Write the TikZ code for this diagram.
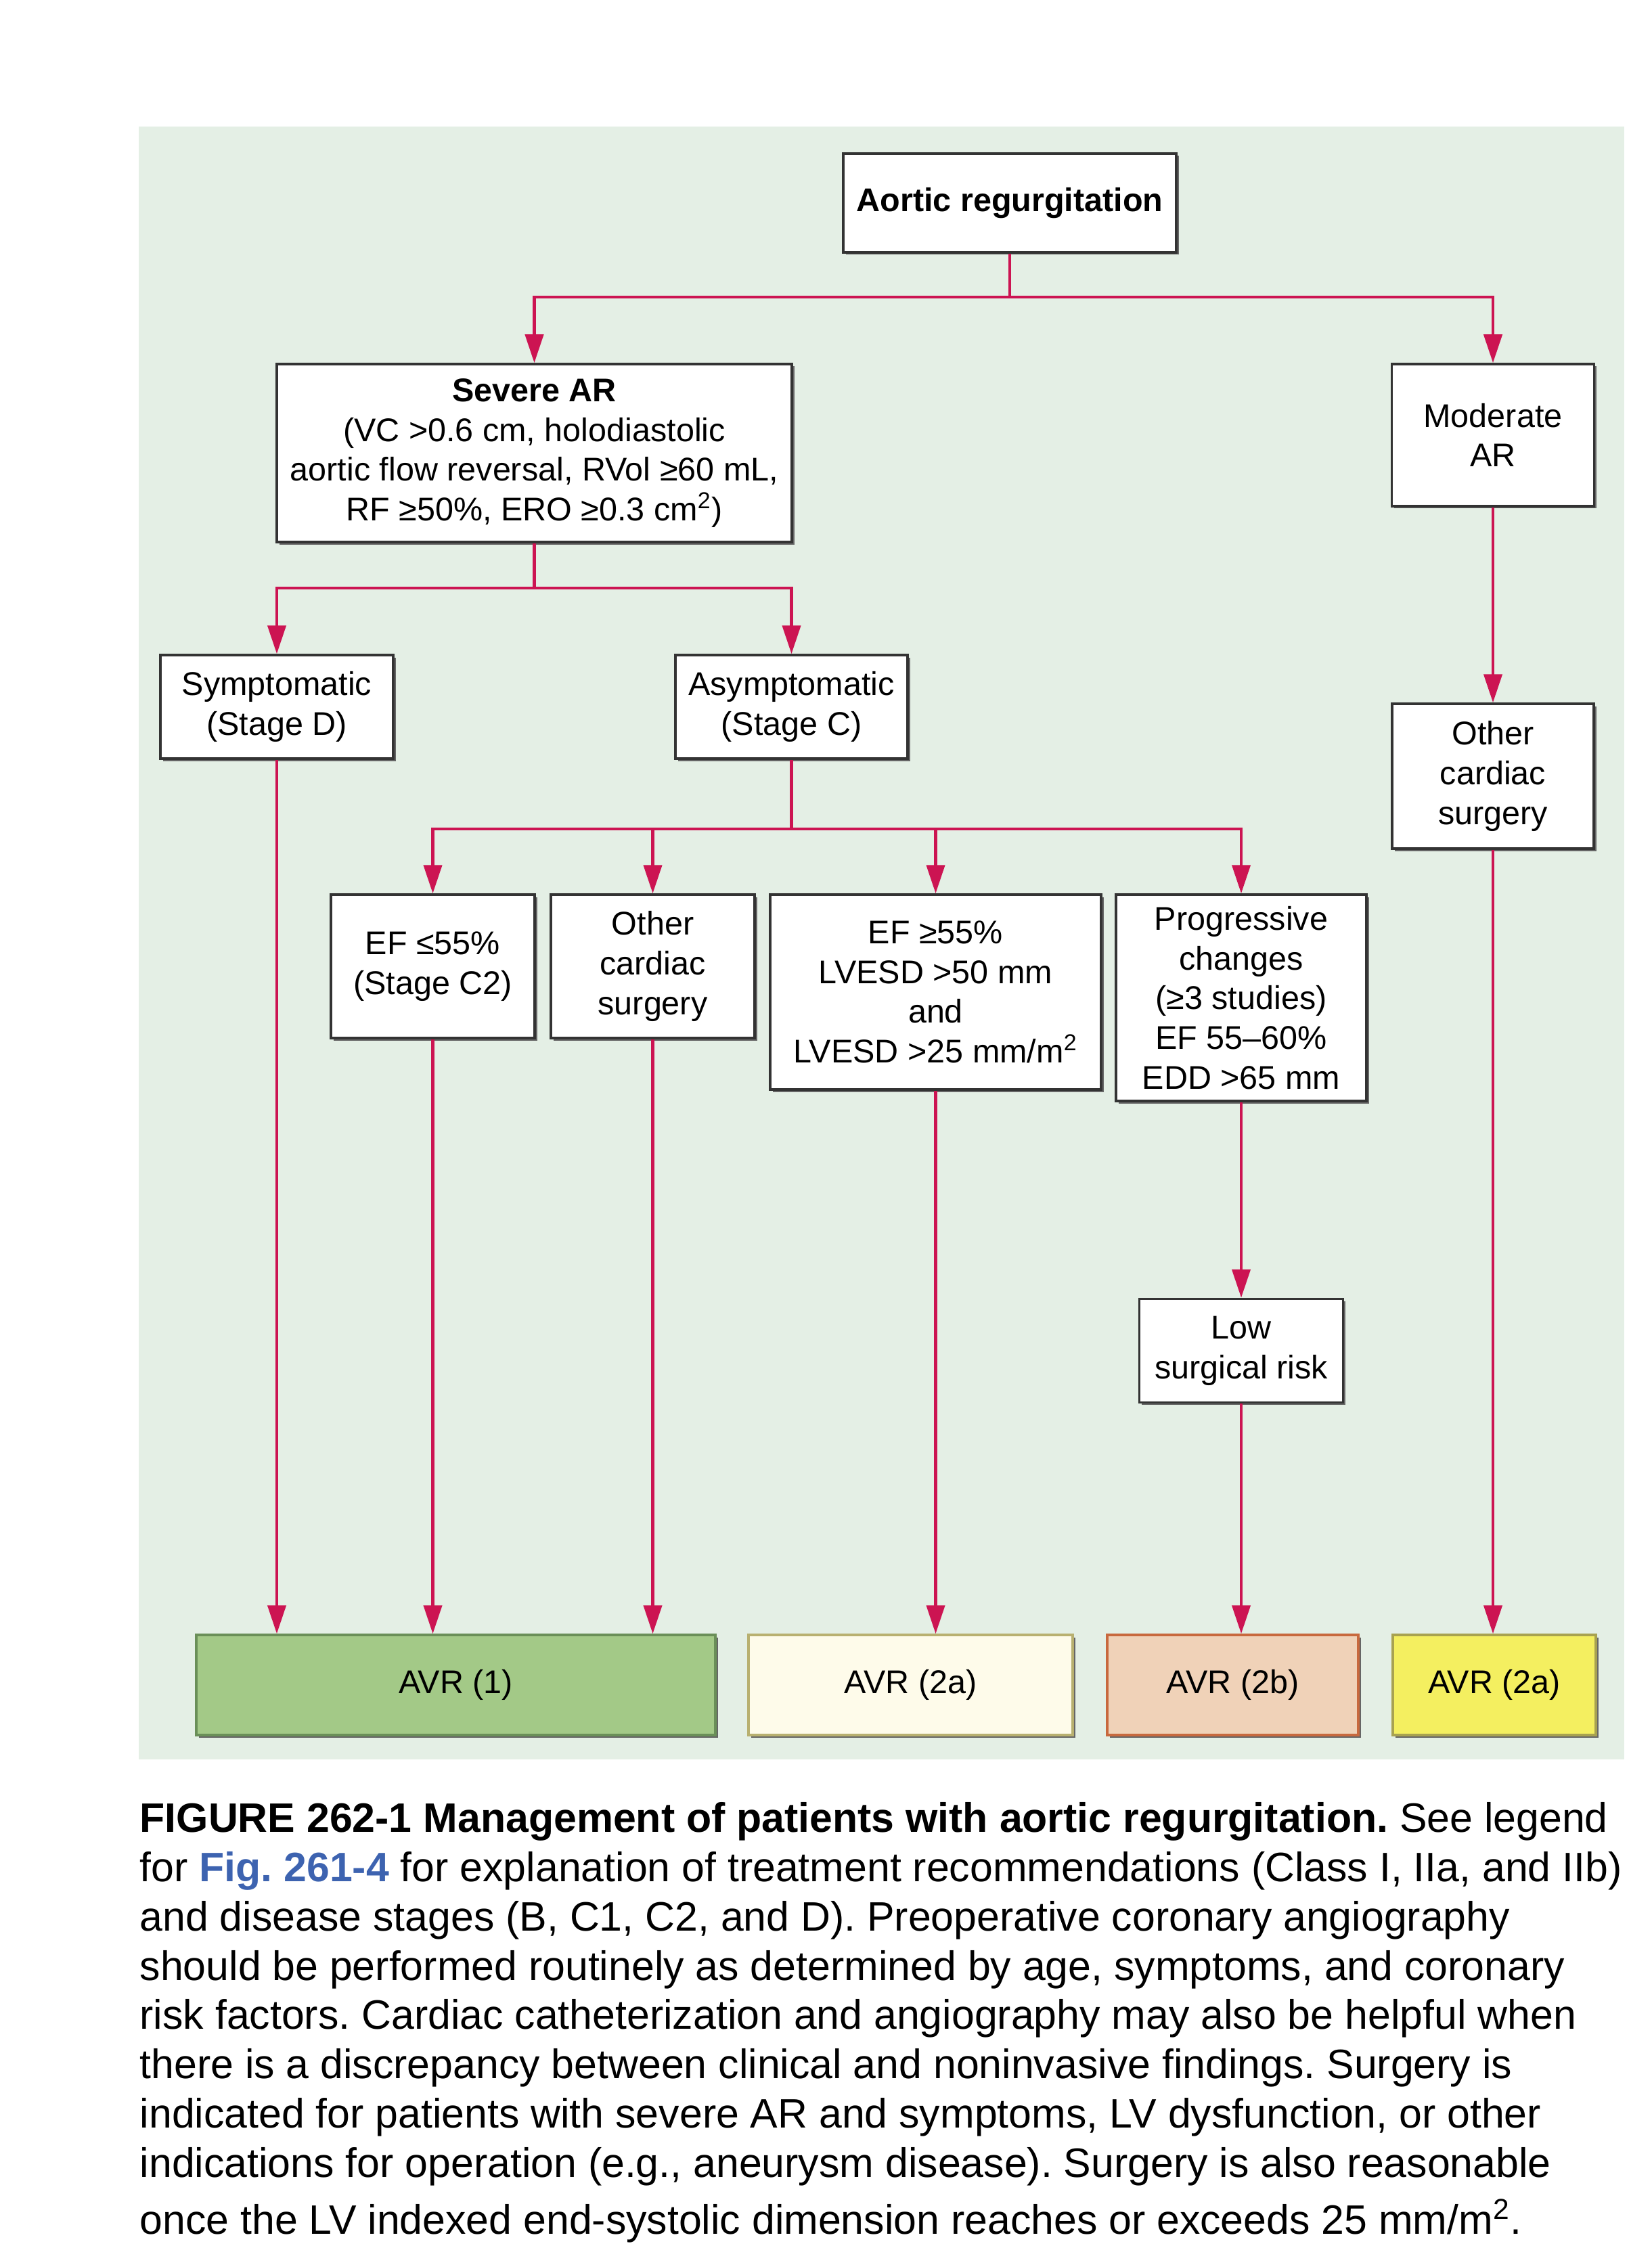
\documentclass[tikz,border=0pt]{standalone}
\usepackage{fontspec}
\setmainfont{Liberation Sans}
\usepackage{xcolor}
\usetikzlibrary{arrows.meta,shadows}
\definecolor{panelcolor}{HTML}{E4EFE5}
\definecolor{linkcolor}{HTML}{CC1452}
\definecolor{figblue}{HTML}{3D63B0}
\definecolor{avrgreen}{HTML}{A3C987}
\definecolor{avrgreenline}{HTML}{6A8F58}
\definecolor{avrcream}{HTML}{FEFBEA}
\definecolor{avrcreamline}{HTML}{B8B070}
\definecolor{avrpeach}{HTML}{F0D2B8}
\definecolor{avrpeachline}{HTML}{C8693E}
\definecolor{avryellow}{HTML}{F4EF60}
\definecolor{avryellowline}{HTML}{A8A250}

\begin{document}
\frenchspacing
\begin{tikzpicture}[
    x=1mm, y=-1mm,
    box/.style={rectangle, draw=black!80, line width=0.35mm, fill=white,
                align=center, inner sep=0pt,
                font=\fontsize{13.8}{16.7}\selectfont,
                drop shadow={shadow xshift=0.35mm, shadow yshift=-0.35mm,
                             fill=black!60, opacity=1}},
    result/.style={box, minimum height=14.8mm},
    link/.style={draw=linkcolor, line width=0.42mm},
    arrow/.style={link, -{Triangle[length=4.2mm, width=2.7mm]}}
]
\useasboundingbox (0,0) rectangle (244.1,332.2);
\fill[panelcolor] (20.5,18.7) rectangle (240.0,260.0);

\node[box, minimum width=49.2mm, minimum height=14.6mm,
      font=\bfseries\fontsize{13.8}{16.7}\selectfont] (aortic) at (149.2,30.0) {Aortic regurgitation};
\node[box, minimum width=76.1mm, minimum height=26.3mm] (severe) at (78.95,66.95)
    {\textbf{Severe AR}\\(VC >0.6 cm, holodiastolic\\aortic flow reversal, RVol ≥60 mL,\\RF ≥50\%, ERO ≥0.3 cm\textsuperscript{2})};
\node[box, minimum width=29.9mm, minimum height=21mm] (moderate) at (220.6,64.3) {Moderate\\AR};
\node[box, minimum width=34.4mm, minimum height=15.3mm] (sympt) at (40.9,104.45) {Symptomatic\\(Stage D)};
\node[box, minimum width=34.3mm, minimum height=15.3mm] (asympt) at (116.95,104.45) {Asymptomatic\\(Stage C)};
\node[box, minimum width=29.8mm, minimum height=21.4mm] (othermod) at (220.6,114.7) {Other\\cardiac\\surgery};
\node[box, minimum width=30.1mm, minimum height=21.2mm] (eflow) at (63.95,142.8) {EF ≤55\%\\(Stage C2)};
\node[box, minimum width=30.1mm, minimum height=21.2mm] (otherasy) at (96.45,142.8) {Other\\cardiac\\surgery};
\node[box, minimum width=48.9mm, minimum height=28.8mm] (efhigh) at (138.25,146.6)
    {EF ≥55\%\\LVESD >50 mm\\and\\LVESD >25 mm/m\textsuperscript{2}};
\node[box, minimum width=37mm, minimum height=30.5mm] (progress) at (183.4,147.45)
    {Progressive\\changes\\(≥3 studies)\\EF 55–60\%\\EDD >65 mm};
\node[box, minimum width=30.1mm, minimum height=15.3mm] (lowrisk) at (183.4,199.6) {Low\\surgical risk};

% treatment classes
\node[result, fill=avrgreen, draw=avrgreenline, minimum width=76.7mm] (avrone) at (67.35,249.0) {AVR (1)};
\node[result, fill=avrcream, draw=avrcreamline, minimum width=47.9mm] (avrtwoa) at (134.55,249.0) {AVR (2a)};
\node[result, fill=avrpeach, draw=avrpeachline, minimum width=37.1mm] (avrtwob) at (182.15,249.0) {AVR (2b)};
\node[result, fill=avryellow, draw=avryellowline, minimum width=30mm] (avrtwoay) at (220.8,249.0) {AVR (2a)};

\coordinate (splitar) at (149.2,43.9);
\coordinate (splitsevere) at (78.95,86.9);
\coordinate (splitasympt) at (116.95,122.5);

\draw[link] (aortic) -- (splitar);
\draw[arrow] (splitar) -| (severe.north);
\draw[arrow] (splitar) -| (moderate.north);
\draw[link] (severe) -- (splitsevere);
\draw[arrow] (splitsevere) -| (sympt.north);
\draw[arrow] (splitsevere) -| (asympt.north);
\draw[link] (asympt) -- (splitasympt);
\draw[arrow] (splitasympt) -| (eflow.north);
\draw[arrow] (splitasympt) -| (otherasy.north);
\draw[arrow] (splitasympt) -| (efhigh.north);
\draw[arrow] (splitasympt) -| (progress.north);

\draw[arrow] (sympt) -- (sympt |- avrone.north);
\draw[arrow] (eflow) -- (eflow |- avrone.north);
\draw[arrow] (otherasy) -- (otherasy |- avrone.north);
\draw[arrow] (efhigh) -- (efhigh |- avrtwoa.north);
\draw[arrow] (progress) -- (lowrisk);
\draw[arrow] (lowrisk) -- (lowrisk |- avrtwob.north);
\draw[arrow] (moderate) -- (othermod);
\draw[arrow] (othermod) -- (othermod |- avrtwoay.north);

% caption
\node[anchor=north west, align=left, inner sep=0pt,
      font=\fontsize{17.3}{20.7}\selectfont] (caption) at (20.6,266.3)
    {\textbf{FIGURE 262-1 Management of patients with aortic regurgitation.} See legend\\
     for \textcolor{figblue}{\textbf{Fig. 261-4}} for explanation of treatment recommendations (Class I, IIa, and IIb)\\
     and disease stages (B, C1, C2, and D). Preoperative coronary angiography\\
     should be performed routinely as determined by age, symptoms, and coronary\\
     risk factors. Cardiac catheterization and angiography may also be helpful when\\
     there is a discrepancy between clinical and noninvasive findings. Surgery is\\
     indicated for patients with severe AR and symptoms, LV dysfunction, or other\\
     indications for operation (e.g., aneurysm disease). Surgery is also reasonable\\[1.2mm]
     once the LV indexed end-systolic dimension reaches or exceeds 25 mm/m\textsuperscript{2}.};
\end{tikzpicture}
\end{document}
